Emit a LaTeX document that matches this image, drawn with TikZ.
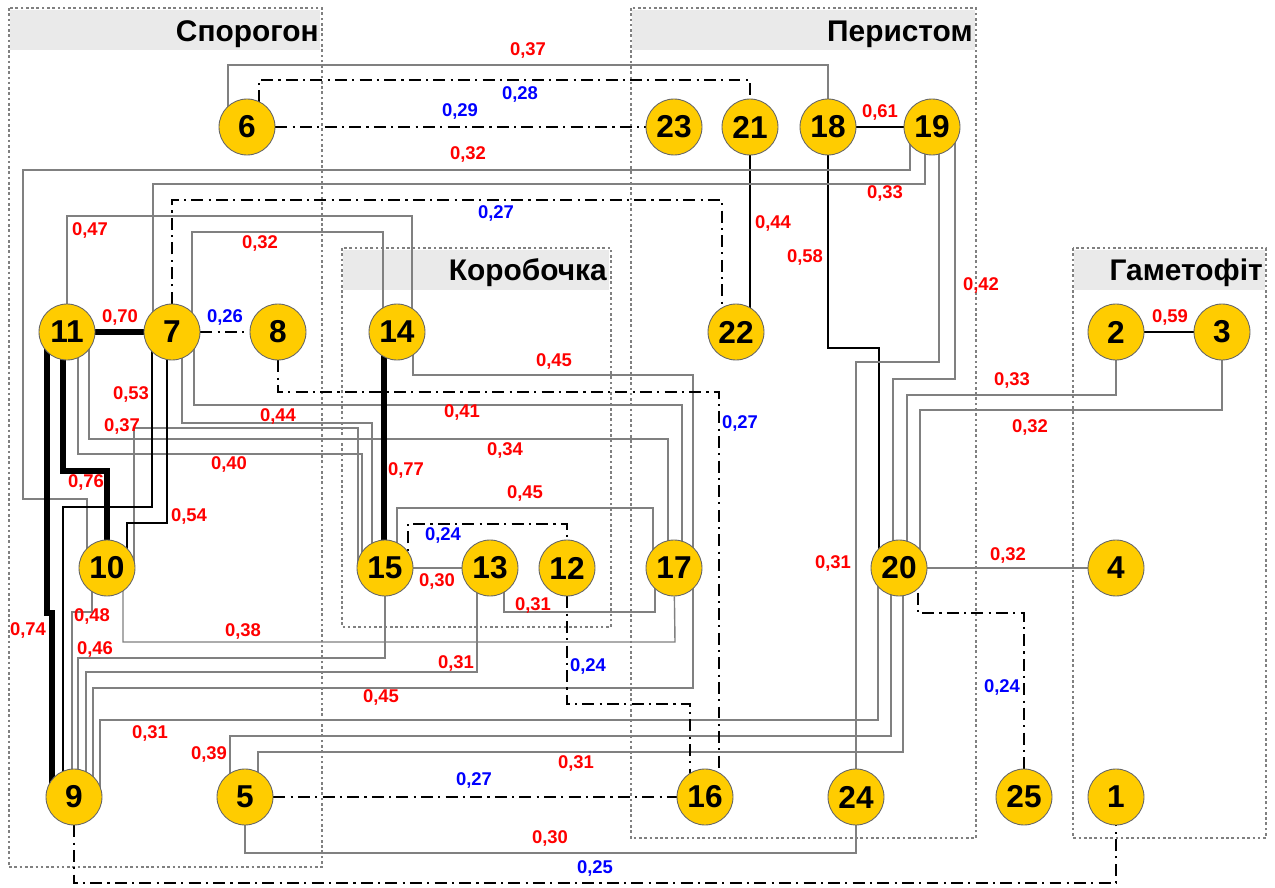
\documentclass[tikz,border=0pt]{standalone}
\usepackage{fontspec}
\setmainfont{Liberation Sans}
\usetikzlibrary{calc,backgrounds}
\definecolor{traitfill}{RGB}{255,204,0}
\definecolor{hdrgray}{RGB}{234,234,234}

\begin{document}
\begin{tikzpicture}[x=0.02cm, y=-0.02cm,
	trait/.style={circle, draw=black!60, line width=0.5pt, fill=traitfill, minimum size=1.12cm, inner sep=0pt, font=\fontsize{18}{18}\selectfont\bfseries},
	thinedge/.style={draw=gray, line width=0.8pt},
	midedge/.style={draw=black, line width=1.3pt},
	thickedge/.style={draw=black, line width=3.2pt},
	dashedge/.style={draw=black, line width=1.4pt, dash pattern=on 6.8pt off 3pt on 1.2pt off 3pt},
	plab/.style={text=red, inner sep=0pt, font=\fontsize{10.5}{12}\selectfont\bfseries},
	nlab/.style={text=blue, inner sep=0pt, font=\fontsize{10.5}{12}\selectfont\bfseries},
	grp/.style={draw=gray, line width=0.6pt, dash pattern=on 1.5pt off 1.5pt},
	grptitle/.style={anchor=base east, inner sep=0pt, font=\fontsize{17}{17}\selectfont\bfseries}]
	\useasboundingbox (0,0) rectangle (1275,888);

	\node[trait] (n1) at (1116,797) {1};
	\node[trait] (n2) at (1116,332) {2};
	\node[trait] (n3) at (1222,332) {3};
	\node[trait] (n4) at (1116,568) {4};
	\node[trait] (n5) at (245,797) {5};
	\node[trait] (n6) at (247,127) {6};
	\node[trait] (n7) at (172,332) {7};
	\node[trait] (n8) at (278,332) {8};
	\node[trait] (n9) at (74,797) {9};
	\node[trait] (n10) at (107,568) {10};
	\node[trait] (n11) at (67,332) {11};
	\node[trait] (n12) at (567,568) {12};
	\node[trait] (n13) at (490,568) {13};
	\node[trait] (n14) at (397,332) {14};
	\node[trait] (n15) at (385,568) {15};
	\node[trait] (n16) at (705,797) {16};
	\node[trait] (n17) at (674,568) {17};
	\node[trait] (n18) at (828,127) {18};
	\node[trait] (n19) at (932,127) {19};
	\node[trait] (n20) at (899,568) {20};
	\node[trait] (n21) at (750,127) {21};
	\node[trait] (n22) at (736,332) {22};
	\node[trait] (n23) at (674,127) {23};
	\node[trait] (n24) at (856,797) {24};
	\node[trait] (n25) at (1024,797) {25};

	\node[grptitle] (sporogon) at (319,42) {Спорогон};
	\node[grptitle] (perystom) at (973,42) {Перистом};
	\node[grptitle] (korobochka) at (607,281) {Коробочка};
	\node[grptitle] (gametofit) at (1263,281) {Гаметофіт};

	\begin{pgfonlayer}{background}
	\fill[hdrgray] (10,10) rectangle (320,50);
	\fill[hdrgray] (632,10) rectangle (975,50);
	\fill[hdrgray] (343,250) rectangle (609,290);
	\fill[hdrgray] (1074,250) rectangle (1265,290);
	\draw[grp] (9,8) rectangle (322,867);
	\draw[grp] (631,8) rectangle (976,838);
	\draw[grp] (342,248) rectangle (611,627);
	\draw[grp] (1073,248) rectangle (1266,838);

	\draw[thinedge] ($(n6)+(-19,0)$) |- (828,65) -- (n18) node[plab] (c6x18) at (528,50) {0,37};
	\draw[dashedge] ($(n6)+(12,0)$) |- (750,80) -- (n21) node[nlab] (c6x21) at (520,94) {0,28};
	\draw[dashedge] (n6) -- (n23) node[nlab] (c6x23) at (460,111) {0,29};
	\draw[midedge] (n18) -- (n19) node[plab] (c18x19) at (880,112) {0,61};
	\draw[midedge] (n21) -- ($(n22)+(14,0)$) node[plab] (c21x22) at (773,223) {0,44};
	\draw[dashedge] (n7) |- (722,200) -- ($(n22)+(-14,0)$) node[nlab] (c7x22) at (496,213) {0,27};
	\draw[midedge] (n18) |- (879,348) -- ($(n20)+(-20,0)$) node[plab] (c18x20) at (805,257) {0,58};
	\draw[thinedge] ($(n19)+(-22,0)$) |- (23,170) |- (87,499) -- ($(n10)+(-20,0)$) node[plab] (c19x10) at (468,154) {0,32};
	\draw[thinedge] ($(n19)+(-7,0)$) |- (153,184) -- ($(n7)+(-19,0)$) node[plab] (c19x7) at (885,193) {0,33};
	\draw[thinedge] ($(n19)+(7,0)$) |- (856,362) -- (n24) node[plab] (c19x24) at (833,563) {0,31};
	\draw[thinedge] ($(n19)+(23,0)$) |- (893,379) -- ($(n20)+(-6,0)$) node[plab] (c19x20) at (981,285) {0,42};
	\draw[thinedge] (n2) |- (907,395) -- ($(n20)+(8,0)$) node[plab] (c2x20) at (1012,380) {0,33};
	\draw[thinedge] (n3) |- (920,410) -- ($(n20)+(21,0)$) node[plab] (c3x20) at (1030,427) {0,32};
	\draw[midedge] (n2) -- (n3) node[plab] (c2x3) at (1170,317) {0,59};
	\draw[thinedge] (n20) -- (n4) node[plab] (c20x4) at (1008,555) {0,32};
	\draw[dashedge] ($(n20)+(19,0)$) |- (1024,613) -- (n25) node[nlab] (c20x25) at (1002,687) {0,24};
	\draw[thinedge] ($(n20)+(-21,0)$) |- (100,720) -- ($(n9)+(26,0)$) node[plab] (c20x9) at (150,733) {0,31};
	\draw[thinedge] ($(n20)+(-8,0)$) |- (230,736) -- ($(n5)+(-15,0)$) node[plab] (c20x5) at (209,754) {0,39};
	\draw[thinedge] ($(n20)+(4,0)$) |- (258,752) -- ($(n5)+(13,0)$) node[plab] (c20x5b) at (576,763) {0,31};

	\draw[thickedge] (n11) -- (n7) node[plab] (c11x7) at (120,317) {0,70};
	\draw[dashedge] (n7) -- (n8) node[nlab] (c7x8) at (225,317) {0,26};
	\draw[thinedge] (n11) |- (412,216) -- ($(n14)+(15,0)$) node[plab] (c11x14) at (90,230) {0,47};
	\draw[thinedge] ($(n7)+(20,0)$) |- (383,232) -- ($(n14)+(-14,0)$) node[plab] (c7x14) at (260,243) {0,32};
	\draw[thinedge] ($(n7)+(22,0)$) |- (682,405) -- ($(n17)+(8,0)$) node[plab] (c7x17) at (462,412) {0,41};
	\draw[thinedge] ($(n7)+(10,0)$) |- (372,423) -- ($(n15)+(-13,0)$) node[plab] (c7x15) at (278,416) {0,44};
	\draw[thinedge] ($(n10)+(27,0)$) |- (358,428) -- ($(n15)+(-27,0)$) node[plab] (c10x15) at (122,426) {0,37};
	\draw[thinedge] ($(n11)+(22,0)$) |- (668,439) -- ($(n17)+(-6,0)$) node[plab] (c11x17) at (505,450) {0,34};
	\draw[thinedge] ($(n11)+(11,0)$) |- (362,454) -- ($(n15)+(-23,0)$) node[plab] (c11x15) at (229,464) {0,40};
	\draw[thickedge] ($(n11)+(-20,0)$) |- (52,613) -- ($(n9)+(-22,0)$) node[plab] (c11x9) at (28,630) {0,74};
	\draw[thickedge] ($(n11)+(-4,0)$) |- (107,471) -- (n10) node[plab] (c11x10) at (86,482) {0,76};
	\draw[midedge] ($(n7)+(-20,0)$) |- (63,507) -- ($(n9)+(-11,0)$) node[plab] (c7x9) at (131,394) {0,53};
	\draw[midedge] ($(n7)+(-5,0)$) |- (127,523) -- ($(n10)+(20,0)$) node[plab] (c7x10) at (189,516) {0,54};
	\draw[thinedge] ($(n10)+(-15,0)$) |- (72,612) -- ($(n9)+(-2,0)$) node[plab] (c10x9) at (92,616) {0,48};
	\draw[thinedge] ($(n10)+(16,0)$) |- (675,642) -- (n17) node[plab] (c10x17) at (243,631) {0,38};
	\draw[thinedge] (n15) |- (78,658) -- ($(n9)+(4,0)$) node[plab] (c15x9) at (95,649) {0,46};
	\draw[thinedge] ($(n13)+(-13,0)$) |- (86,672) -- ($(n9)+(12,0)$) node[plab] (c13x9) at (456,663) {0,31};
	\draw[thinedge] ($(n14)+(16,0)$) |- (693,375) -- ($(n17)+(19,0)$) node[plab] (c14x17) at (554,361) {0,45};
	\draw[thinedge] ($(n17)+(19,0)$) |- (93,688) -- ($(n9)+(19,0)$) node[plab] (c17x9) at (381,697) {0,45};
	\draw[thickedge] ($(n14)+(-13,0)$) -- ($(n15)+(-1,0)$) node[plab] (c14x15) at (406,470) {0,77};
	\draw[thinedge] (n15) -- (n13) node[plab] (c15x13) at (437,581) {0,30};
	\draw[dashedge] ($(n15)+(23,0)$) |- (567,524) -- (n12) node[nlab] (c15x12) at (443,535) {0,24};
	\draw[thinedge] ($(n15)+(12,0)$) |- (653,508) -- ($(n17)+(-21,0)$) node[plab] (c15x17) at (525,493) {0,45};
	\draw[thinedge] ($(n13)+(14,0)$) |- (655,612) -- ($(n17)+(-19,0)$) node[plab] (c13x17) at (533,605) {0,31};
	\draw[dashedge] (n12) |- (690,704) -- ($(n16)+(-15,0)$) node[nlab] (c12x16) at (588,666) {0,24};
	\draw[dashedge] (n8) |- (719,392) -- ($(n16)+(14,0)$) node[nlab] (c8x16) at (740,423) {0,27};
	\draw[dashedge] (n5) -- (n16) node[nlab] (c5x16) at (474,780) {0,27};
	\draw[thinedge] (n5) |- (856,853) -- (n24) node[plab] (c5x24) at (550,838) {0,30};
	\draw[dashedge] (n9) |- (1116,883) -- (n1) node[nlab] (c9x1) at (595,868) {0,25};
	\end{pgfonlayer}
\end{tikzpicture}
\end{document}
